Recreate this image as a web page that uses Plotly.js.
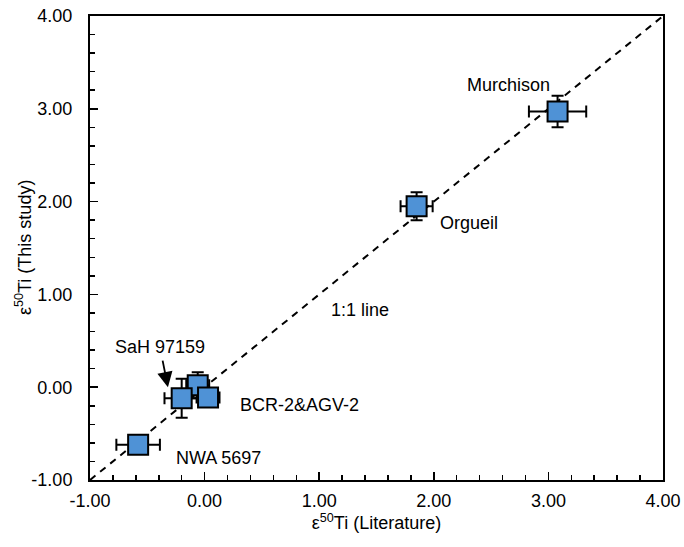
<!DOCTYPE html>
<html>
<head>
<meta charset="utf-8">
<script src="https://cdn.plot.ly/plotly-3.0.1.min.js"></script>
<style>html,body{margin:0;padding:0;background:#fff;}#chart{width:684px;height:547px;}</style>
</head>
<body>
<div id="chart"></div>
<script>
// Samples (drawn in this order: back square first)
const samples   = ["Murchison", "Orgueil", "SaH 97159", "BCR-2&AGV-2 (a)", "BCR-2&AGV-2 (b)", "NWA 5697"];
const litX      = [3.08, 1.85, -0.06, -0.20, 0.03, -0.58];
const studyY    = [2.97, 1.95, 0.02, -0.12, -0.11, -0.62];
const litErr    = [0.25, 0.14, 0.10, 0.15, 0.10, 0.19];
const studyErr  = [0.17, 0.15, 0.14, 0.21, 0.10, 0.08];

// 1:1 reference line
const lineX = [-1, 4];
const lineY = [-1, 4];

// Tick labels
const tickVals = [-1, 0, 1, 2, 3, 4];
const tickText = ["-1.00", "0.00", "1.00", "2.00", "3.00", "4.00"];

// Text labels
const labelText = ["Murchison", "Orgueil", "BCR-2&AGV-2", "NWA 5697", "1:1 line"];
const labelX    = [2.656, 2.307, 0.824, 0.117, 1.356];
const labelY    = [3.256, 1.770, -0.190, -0.763, 0.832];

const font = {family: "Liberation Sans, Arial, sans-serif", size: 18, color: "#000"};

const traces = [
  {x: lineX, y: lineY, mode: "lines", line: {color: "#000", width: 2, dash: "7px,6px"}, hoverinfo: "skip", showlegend: false},
  {x: litX, y: studyY, mode: "markers", text: samples, showlegend: false,
   marker: {symbol: "square", size: 20, color: "#4f92d6", line: {color: "#000", width: 2}},
   error_x: {type: "data", array: litErr, visible: true, color: "#000", thickness: 2, width: 6},
   error_y: {type: "data", array: studyErr, visible: true, color: "#000", thickness: 2, width: 6}}
];

const annotations = labelText.map((t, i) => ({x: labelX[i], y: labelY[i], xref: "x", yref: "y", text: t, showarrow: false, font: font}));
// SaH 97159 label with arrow
annotations.push({x: -0.32, y: 0.0, xref: "x", yref: "y", ax: -8, ay: -40, text: "SaH 97159", font: font, showarrow: true,
  arrowhead: 2, arrowsize: 1.7, arrowwidth: 1.8, arrowcolor: "#000", standoff: 0, startstandoff: 2});
// y-axis title
annotations.push({x: 0, y: 0.5, xref: "paper", yref: "paper", xanchor: "center", yanchor: "middle", xshift: -67,
  textangle: -90, text: "ε<sup>50</sup>Ti (This study)", font: font, showarrow: false});

const axisCommon = {
  range: [-1, 4], tickmode: "array", tickvals: tickVals, ticktext: tickText,
  ticks: "inside", ticklen: 8, tickwidth: 1.5, tickcolor: "#000",
  showline: true, linecolor: "#000", linewidth: 2, mirror: true, showgrid: false, zeroline: false,
  tickfont: font, minor: {dtick: 0.2, ticks: "inside", ticklen: 5, tickwidth: 1.5, tickcolor: "#000", showgrid: false}
};

const layout = {
  width: 684, height: 547,
  margin: {l: 90, r: 21, t: 16, b: 67},
  paper_bgcolor: "#fff", plot_bgcolor: "#fff",
  font: font,
  xaxis: Object.assign({}, axisCommon, {title: {text: "ε<sup>50</sup>Ti (Literature)", font: font, standoff: 6}, ticklabelstandoff: 3}),
  yaxis: Object.assign({}, axisCommon, {ticklabelstandoff: 12}),
  annotations: annotations
};

Plotly.newPlot("chart", traces, layout, {staticPlot: true});
</script>
</body>
</html>
